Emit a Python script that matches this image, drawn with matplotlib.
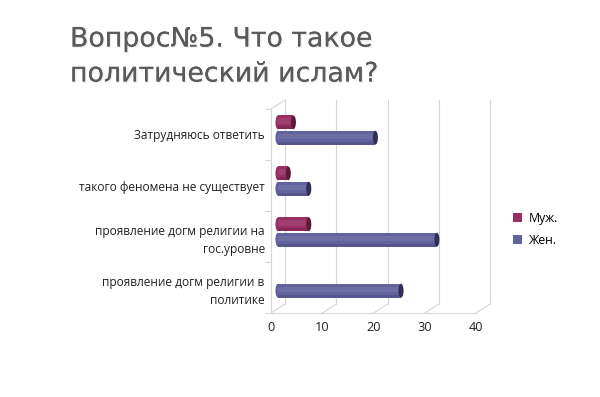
import matplotlib
matplotlib.use("Agg")
import matplotlib.pyplot as plt
import matplotlib.transforms as mtransforms
import matplotlib.patheffects as pe
from matplotlib.patches import Ellipse, ConnectionPatch

# ---------------------------------------------------------------------------
# data (top-to-bottom order as shown on the chart)
# ---------------------------------------------------------------------------
CATEGORIES = [
    "Затрудняюсь ответить",
    "такого феномена не существует",
    "проявление догм религии на\nгос.уровне",
    "проявление догм религии в\nполитике",
]
SERIES = ["Муж.", "Жен."]
MEN = [3, 2, 6, 0]
WOMEN = [19, 6, 31, 24]
XTICKS = [0, 10, 20, 30, 40]

TITLE_1 = "Вопрос№5. Что такое"
TITLE_2 = "политический ислам?"

# ---------------------------------------------------------------------------
# styling
# ---------------------------------------------------------------------------
BODY = {"Муж.": "#982e62", "Жен.": "#62629e"}
END = {"Муж.": "#5e1a3b", "Жен.": "#2f2f58"}
GRID = "#d6d6d6"
FONT = ["Open Sans", "DejaVu Sans"]
DEPTH = (14, 9)     # px offset of the back wall (right, up)
BAR_H = 0.27
BAR_OFF = 0.15

fig = plt.figure(figsize=(6.0, 3.97), dpi=100)
fig.patch.set_facecolor("white")

# front plane of the 3d box
ax = fig.add_axes([271 / 600, 1 - 313 / 397, 205 / 600, 204 / 397])
ax.set_xlim(0, 40)
ax.set_ylim(-0.5, len(CATEGORIES) - 0.5)
ax.set_facecolor("none")

back = ax.transData + mtransforms.ScaledTranslation(
    DEPTH[0] / 100, DEPTH[1] / 100, fig.dpi_scale_trans)
mid = ax.transData + mtransforms.ScaledTranslation(
    DEPTH[0] / 200, DEPTH[1] / 200, fig.dpi_scale_trans)

ypos = [len(CATEGORIES) - 1 - i for i in range(len(CATEGORIES))]
ymin, ymax = ax.get_ylim()

# --- back wall grid + floor diagonals ---
for xt in XTICKS:
    ax.plot([xt, xt], [ymin, ymax], color=GRID, lw=0.8, transform=back,
            clip_on=False, zorder=0)
    ax.add_artist(ConnectionPatch((xt, ymin), (xt, ymin),
                                  coordsA=ax.transData, coordsB=back,
                                  color=GRID, lw=0.8, zorder=0))
ax.add_artist(ConnectionPatch((0, ymax), (0, ymax), coordsA=ax.transData,
                              coordsB=back, color=GRID, lw=0.8, zorder=0))

# --- cylinders ---
def cylinders(values, shift, name):
    ys = [y + shift for y in ypos]
    ax.barh(ys, values, height=BAR_H, color=BODY[name], label=name,
            transform=mid, clip_on=False, zorder=3, linewidth=0)
    # soft highlight and shadow bands for the round look
    ax.barh([y + BAR_H * 0.1 for y in ys], values, height=BAR_H * 0.4,
            color="white", alpha=0.08, transform=mid, clip_on=False,
            zorder=3.1, linewidth=0)
    ax.barh([y - BAR_H * 0.4 for y in ys], values, height=BAR_H * 0.2,
            color="black", alpha=0.12, transform=mid, clip_on=False,
            zorder=3.1, linewidth=0)
    for v, y in zip(values, ys):
        if v <= 0:
            continue
        ax.add_patch(Ellipse((0, y), 1.0, BAR_H, color=BODY[name],
                             transform=mid, clip_on=False, zorder=2.9, lw=0))
        ax.add_patch(Ellipse((v, y), 1.0, BAR_H, color=END[name],
                             transform=mid, clip_on=False, zorder=3.2, lw=0))

cylinders(MEN, BAR_OFF, SERIES[0])
cylinders(WOMEN, -BAR_OFF, SERIES[1])

# --- axes ---
for s in ("top", "right"):
    ax.spines[s].set_visible(False)
for s in ("left", "bottom"):
    ax.spines[s].set_color(GRID)
    ax.spines[s].set_linewidth(0.8)

ax.set_yticks(ypos)
ax.set_yticklabels(CATEGORIES, fontsize=8.6, family=FONT, color="#222222",
                   linespacing=1.5)
ax.set_yticks([y - 0.5 for y in range(len(CATEGORIES) + 1)], minor=True)
ax.tick_params(axis="y", which="major", length=0, pad=4.5)
ax.tick_params(axis="y", which="minor", length=4, color=GRID, width=0.8)

ax.set_xticks(XTICKS)
ax.set_xticklabels([str(t) for t in XTICKS], fontsize=9.2, family=FONT,
                   color="#222222")
ax.tick_params(axis="x", length=0, pad=6)

# --- legend ---
ax.legend(loc="upper left", bbox_to_anchor=(502 / 600, 1 - 201 / 397),
          bbox_transform=fig.transFigure, frameon=False,
          prop={"family": FONT, "size": 8.8}, handlelength=0.75,
          handleheight=0.75, handletextpad=0.5, labelspacing=0.7)

# --- title ---
shadow = [pe.withSimplePatchShadow(offset=(1, -1), alpha=0.15,
                                   shadow_rgbFace="#909090"), pe.Normal()]
for txt, y in ((TITLE_1, 46.5), (TITLE_2, 81.5)):
    fig.text(70 / 600, 1 - y / 397, txt, fontsize=19.3, family="DejaVu Sans",
             color="#5a5a5a", va="baseline", ha="left", path_effects=shadow)

fig.savefig("out.png", dpi=100)
